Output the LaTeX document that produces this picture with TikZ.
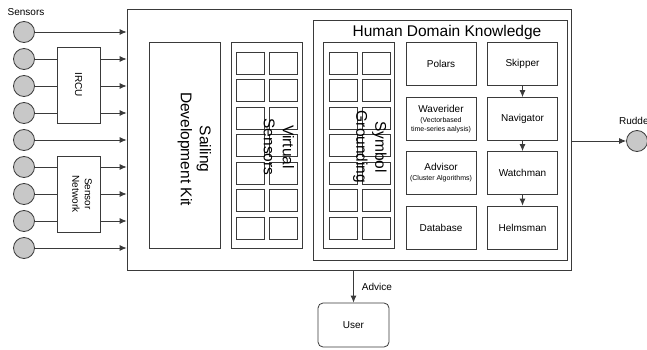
\documentclass[tikz,border=0pt]{standalone}
\usepackage{fontspec}
\setmainfont{Liberation Sans}
\usetikzlibrary{arrows.meta}
\definecolor{linec}{HTML}{3A3A3A}
\definecolor{sensorfill}{HTML}{C8C8C8}
\tikzset{
  box/.style={draw=linec, line width=0.8pt, rectangle, inner sep=0pt},
  sq/.style={box, minimum width=28pt, minimum height=22pt},
  unit/.style={box, minimum width=70pt, minimum height=43pt, font=\fontsize{10}{11}\selectfont, align=center},
  sensor/.style={circle, draw=linec, line width=0.8pt, fill=sensorfill, minimum size=21pt, inner sep=0pt},
  wire/.style={draw=linec, line width=0.8pt},
  arr/.style={wire, -{Latex[length=7pt,width=6pt]}},
  biglabel/.style={font=\fontsize{15.5}{19}\selectfont, align=center, inner sep=0pt},
  smalllabel/.style={font=\fontsize{10}{11}\selectfont, align=center, inner sep=0pt},
}
\begin{document}
\begin{tikzpicture}[x=1pt, y=-1pt]
\useasboundingbox (0,0) rectangle (647,350);

% outer system box
\node[box, minimum width=444pt, minimum height=261pt] (main) at (349,139.5) {};

% sensors on the left
\node[smalllabel] (senslabel) at (26,12) {Sensors};
\foreach \i/\y in {1/32,2/59,3/86,4/113,5/140,6/167,7/194,8/221,9/248}
  \node[sensor] (s\i) at (24,\y) {};

% pre-processing units
\node[box, minimum width=43pt, minimum height=76pt] (ircu) at (78.5,85) {};
\node[smalllabel, rotate=-90] (ircutext) at (ircu.center) {IRCU};
\node[box, minimum width=43pt, minimum height=76pt] (snet) at (78.5,194) {};
\node[smalllabel, rotate=-90, font=\fontsize{10}{12.5}\selectfont] (snettext) at (82,194) {Sensor\\Network};

% sensor connections
\foreach \i in {1,5,9}
  \draw[arr] (s\i) -- (s\i -| main.west);
\foreach \i in {2,3,4} {
  \draw[wire] (s\i) -- (s\i -| ircu.west);
  \draw[arr] (s\i -| ircu.east) -- (s\i -| main.west);
}
\foreach \i in {6,7,8} {
  \draw[wire] (s\i) -- (s\i -| snet.west);
  \draw[arr] (s\i -| snet.east) -- (s\i -| main.west);
}

% sailing development kit
\node[box, minimum width=71pt, minimum height=206pt] (sdk) at (184.5,145) {};
\node[biglabel, rotate=-90] (sdktext) at (194.5,149) {Sailing\\Development Kit};

% virtual sensors
\node[box, minimum width=71pt, minimum height=206pt] (vs) at (266.5,145) {};
\foreach \r in {0,...,6} {
  \node[sq] (vsa\r) at (250,63+27.5*\r) {};
  \node[sq] (vsb\r) at (283,63+27.5*\r) {};
}
\node[biglabel, rotate=-90] (vstext) at (279,147) {Virtual\\Sensors};

% human domain knowledge
\node[box, minimum width=254pt, minimum height=240pt] (hdk) at (440,140) {};
\node[biglabel] (hdktext) at (447,32) {Human Domain Knowledge};

% symbol grounding
\node[box, minimum width=71pt, minimum height=206pt] (sg) at (358.5,145) {};
\foreach \r in {0,...,6} {
  \node[sq] (sga\r) at (343,63+27.5*\r) {};
  \node[sq] (sgb\r) at (376,63+27.5*\r) {};
}
\node[biglabel, rotate=-90] (sgtext) at (370,147) {Symbol\\Grounding};

% knowledge modules
\node[unit] (polars) at (441,63.5) {Polars};
\node[unit] (wave) at (441,119) {Waverider\\[-1pt]{\fontsize{7}{8}\selectfont (Vectorbased}\\[-2pt]{\fontsize{7}{8}\selectfont time-series aalysis)}};
\node[unit] (advisor) at (441,173) {Advisor\\[-1pt]{\fontsize{7}{8}\selectfont (Cluster Algorithms)}};
\node[unit] (db) at (441,227.5) {Database};

% control chain
\node[unit] (skipper) at (522.5,63.5) {Skipper};
\node[unit] (nav) at (522.5,119) {Navigator};
\node[unit] (watch) at (522.5,173) {Watchman};
\node[unit] (helm) at (522.5,227.5) {Helmsman};
\draw[arr] (skipper) -- (nav);
\draw[arr] (nav) -- (watch);
\draw[arr] (watch) -- (helm);

% rudder output
\node[sensor] (rudder) at (637,141) {};
\node[smalllabel] (rudlabel) at (635.5,121) {Rudder};
\draw[arr] (main.east |- rudder) -- (rudder);

% user advice
\node[box, rounded corners=5pt, minimum width=71pt, minimum height=44pt, font=\fontsize{10}{11}\selectfont] (user) at (353.5,325) {User};
\draw[arr] (main.south -| user) -- (user);
\node[smalllabel] (advlabel) at (377,287) {Advice};
\end{tikzpicture}
\end{document}
